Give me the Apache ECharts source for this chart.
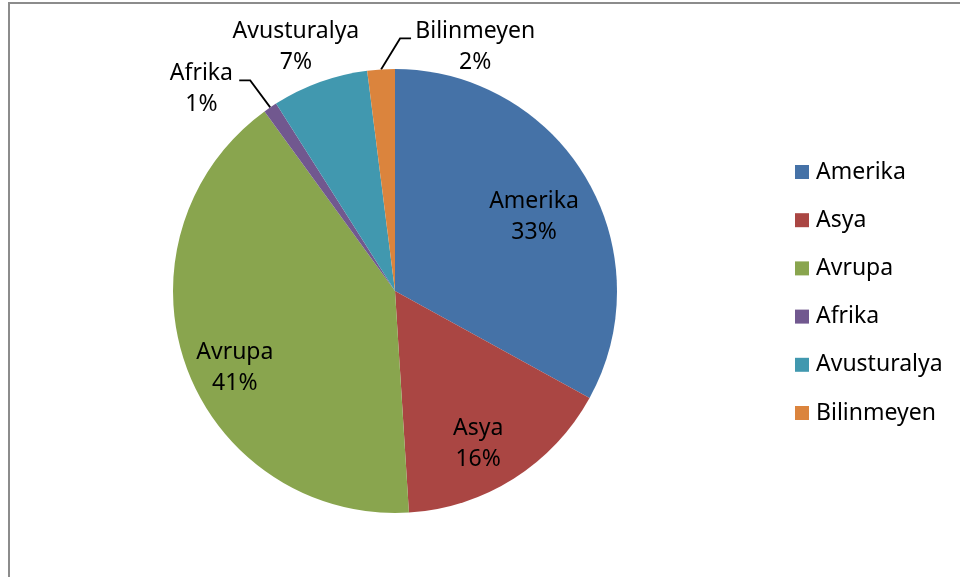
<!DOCTYPE html>
<html>
<head>
<meta charset="utf-8">
<script src="https://cdn.jsdelivr.net/npm/echarts@6/dist/echarts.min.js"></script>
<style>
  html, body { margin: 0; padding: 0; background: #fff; }
  #chart { width: 960px; height: 577px; }
</style>
</head>
<body>
<div id="chart"></div>
<script>
// Regions and their share (%)
const regions = ['Amerika', 'Asya', 'Avrupa', 'Afrika', 'Avusturalya', 'Bilinmeyen'];
const shares = [33, 16, 41, 1, 7, 2];
const colors = ['#4572A7', '#AA4643', '#89A54E', '#71588F', '#4198AF', '#DB843D'];

// Pie geometry
const CX = 395, CY = 291, R = 222;
const FONT = 'Noto Sans';

// Label placement: radius factor and angular nudge (deg) per slice
const labelRadius = [0.71, 0.785, 0.80, 1.26, 1.186, 1.157];
const labelNudge = [2.5, 3.9, -5.8, -9.6, -2.3, 21.8];
// Leader lines: elbow offset from the slice edge and horizontal tail length
const leaders = { 3: { elbow: [-20, -27], tail: -11 }, 5: { elbow: [19, -31], tail: 11 } };

const total = shares.reduce((a, b) => a + b, 0);
const midAngles = [];
let acc = 0;
shares.forEach(v => { midAngles.push((acc + v / 2) / total * 360); acc += v; });

const chart = echarts.init(document.getElementById('chart'), null, { renderer: 'canvas' });

const data = regions.map((name, i) => {
  const outside = labelRadius[i] > 1;
  return {
    name: name,
    value: shares[i],
    itemStyle: { color: colors[i] },
    label: { position: outside ? 'outside' : 'inside' },
    labelLine: { show: !!leaders[i] }
  };
});

chart.setOption({
  animation: false,
  backgroundColor: '#ffffff',
  graphic: [{
    type: 'rect',
    silent: true,
    shape: { x: 9, y: 3, width: 1200, height: 1200 },
    style: { fill: 'none', stroke: '#8c8c8c', lineWidth: 2 }
  }],
  legend: {
    orient: 'vertical',
    left: 795,
    top: 158,
    padding: 0,
    itemWidth: 14,
    itemHeight: 14,
    itemGap: 20.2,
    icon: 'rect',
    selectedMode: false,
    data: regions,
    textStyle: {
      fontFamily: FONT,
      fontSize: 23,
      color: '#000',
      lineHeight: 28,
      padding: [0, 0, 0, 2]
    }
  },
  series: [{
    type: 'pie',
    center: [CX, CY],
    radius: R,
    startAngle: 90,
    clockwise: true,
    avoidLabelOverlap: false,
    silent: true,
    emphasis: { disabled: true },
    itemStyle: { borderWidth: 0 },
    label: {
      show: true,
      formatter: p => p.name + '\n' + Math.round(p.percent) + '%',
      fontFamily: FONT,
      fontSize: 23,
      lineHeight: 31,
      color: '#000'
    },
    labelLine: {
      lineStyle: { color: '#000', width: 1.8 }
    },
    labelLayout: function (params) {
      const i = params.dataIndex;
      const a = (midAngles[i] + labelNudge[i]) * Math.PI / 180;
      const out = {
        x: CX + R * labelRadius[i] * Math.sin(a),
        y: CY - R * labelRadius[i] * Math.cos(a),
        align: 'center',
        verticalAlign: 'middle'
      };
      const ld = leaders[i];
      if (ld) {
        const m = midAngles[i] * Math.PI / 180;
        const edge = [CX + R * Math.sin(m), CY - R * Math.cos(m)];
        const elbow = [edge[0] + ld.elbow[0], edge[1] + ld.elbow[1]];
        out.labelLinePoints = [edge, elbow, [elbow[0] + ld.tail, elbow[1]]];
      }
      return out;
    },
    data: data
  }]
});
</script>
</body>
</html>
